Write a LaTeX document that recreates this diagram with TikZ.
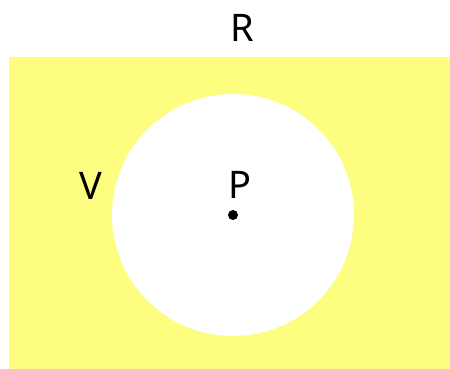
\documentclass[tikz,border=0pt]{standalone}
\usepackage{fontspec}
\setmainfont{Noto Sans}
\usetikzlibrary{positioning}
\definecolor{region}{RGB}{253,253,128}
\newcommand\lbl{\fontsize{38}{44}\selectfont}
\begin{document}
\begin{tikzpicture}[x=1pt,y=1pt,letter/.style={inner sep=0pt,font=\lbl}]
\useasboundingbox (0,0) rectangle (450,369);
\fill[region] (9,0) rectangle (450,312);
\fill[white] (233,154) circle(121);
\node[letter] (R) at (242,341) {R};
\node[letter] (V) at (91,183) {V};
\node[letter] (P) at (240,184) {P};
\fill (233,154) circle(5);
\end{tikzpicture}
\end{document}
